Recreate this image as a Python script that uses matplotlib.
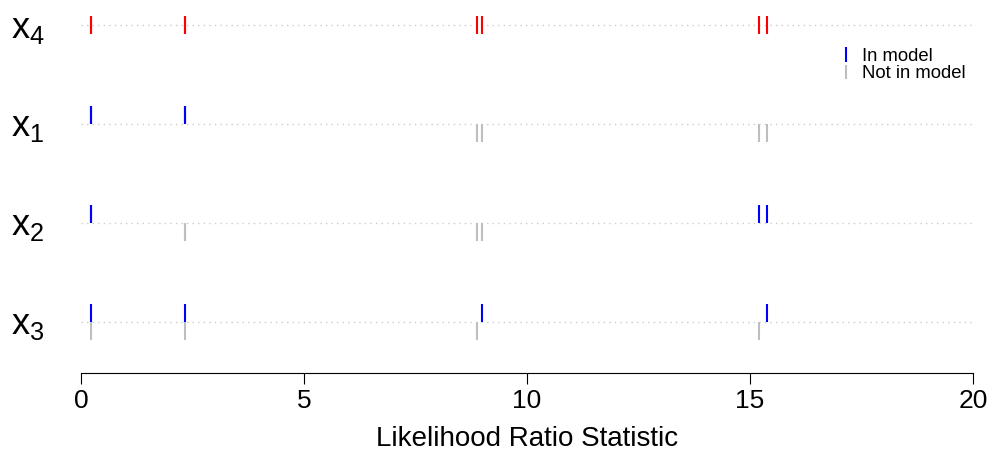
import matplotlib
matplotlib.use('Agg')
import matplotlib.pyplot as plt

plt.rcParams['font.family'] = ['Liberation Sans', 'DejaVu Sans']
plt.rcParams['mathtext.fontset'] = 'custom'
plt.rcParams['mathtext.rm'] = 'Liberation Sans'
plt.rcParams['mathtext.it'] = 'Liberation Sans'

# LR statistic of each candidate model (x4 is in every model)
lr_stat = [0.22, 0.23, 2.33, 2.34, 8.87, 8.99, 15.21, 15.39]
# which variables are in each model
in_x1 = [1, 1, 1, 1, 0, 0, 0, 0]
in_x2 = [1, 1, 0, 0, 0, 0, 1, 1]
in_x3 = [1, 0, 0, 1, 0, 1, 0, 1]
in_x4 = [1, 1, 1, 1, 1, 1, 1, 1]

rows = ['x4', 'x1', 'x2', 'x3']
membership = {'x1': in_x1, 'x2': in_x2, 'x3': in_x3, 'x4': in_x4}
always_in = 'x4'

blue = '#0000FF'
grey = '#BEBEBE'
red = '#FF0000'
h = 0.18

fig = plt.figure(figsize=(9.92, 4.52), dpi=100)
ax = fig.add_axes([81 / 992, 78 / 452, 892 / 992, 374 / 452])

for i, var in enumerate(rows):
    y = len(rows) - i
    ax.plot([0, 20], [y, y], color='#CCCCCC', lw=1, ls=(0, (1, 3)), zorder=1)
    for s, m in zip(lr_stat, membership[var]):
        if var == always_in:
            ax.vlines(s, y - h / 2, y + h / 2, color=red, lw=1.5, zorder=3)
        elif m:
            ax.vlines(s, y, y + h, color=blue, lw=1.5, zorder=3)
        else:
            ax.vlines(s, y - h, y, color=grey, lw=1.5, zorder=2)
    fig.text(11 / 992, 1 - (28 + 99 * i) / 452, r'$\mathrm{x}_%s$' % var[1],
             fontsize=26, ha='left', va='center')

ax.set_xlim(0, 20)
ax.set_ylim(0.485, 4.263)
ax.set_yticks([])
ax.set_xticks([0, 5, 10, 15, 20])
for sp in ['left', 'top', 'right']:
    ax.spines[sp].set_visible(False)
ax.spines['bottom'].set_linewidth(0.8)
ax.tick_params(axis='x', length=8, width=0.8, labelsize=19, pad=3)
ax.set_xlabel('Likelihood Ratio Statistic', fontsize=20, labelpad=9)

# legend
ax.vlines(17.15, 3.63, 3.78, color=blue, lw=1.5)
ax.vlines(17.15, 3.45, 3.60, color=grey, lw=1.5)
ax.text(17.5, 3.692, 'In model', fontsize=13.3, va='center')
ax.text(17.5, 3.525, 'Not in model', fontsize=13.3, va='center')

fig.savefig('out.png', dpi=100)
